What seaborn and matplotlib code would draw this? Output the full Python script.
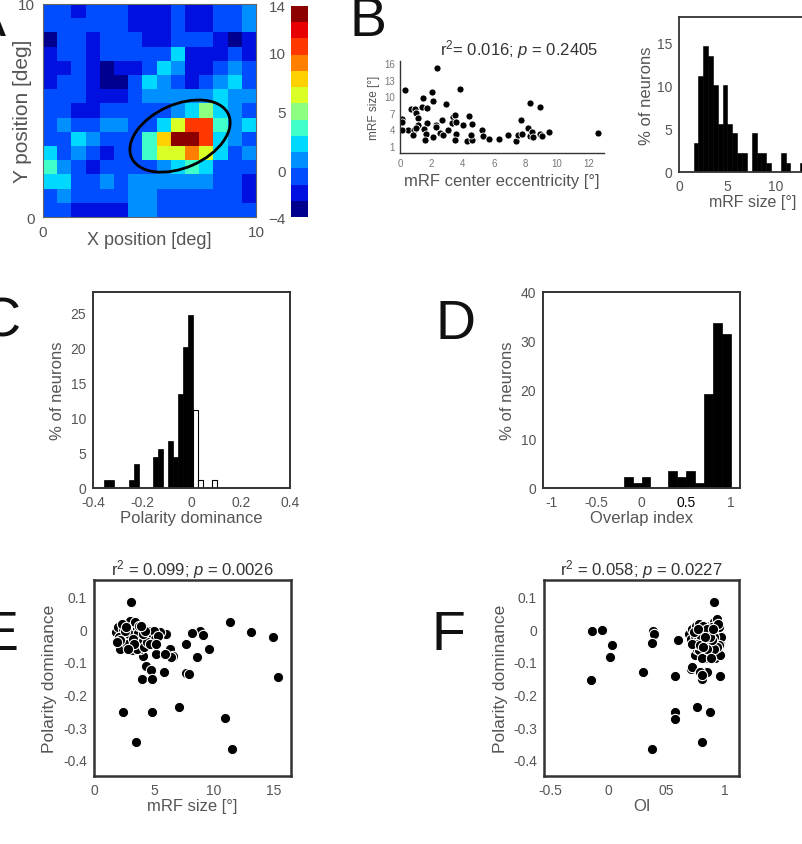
import numpy as np
import matplotlib
matplotlib.use('Agg')
import matplotlib.pyplot as plt
import seaborn as sns
from matplotlib.colors import ListedColormap
from matplotlib.patches import Ellipse

# ---------------- data ----------------
# Panel A: receptive field map, 15 x 15 cells, row 0 = top (Y = 10 deg)
rf_codes = [
    "bbDbbbDDDbDDbbL",
    "bbbbbbDDDbDDbbL",
    "NbbDbbbDDbbbDND",
    "DbbDbbbbbCDDDbD",
    "DDbDNDDbCLDDbLb",
    "DbbDNNbCLbDbLCb",
    "bbbDDDbLLLLLCLL",
    "bbDDbbbbbLCGCLb",
    "bLbbLLbbCYRRALC",
    "bbCLbbbAOKKRCLb",
    "CbLbDbbAYYoYCbL",
    "ALbDbbbbLCACbbb",
    "CCbbLbLLLLLLbbD",
    "bLbbbbLLbbbbbbD",
    "bbDDDDLLbbbbbbb",
]
rf_levels = {"N": -3.3, "D": -2.0, "b": -0.6, "L": 0.9, "C": 2.2, "A": 3.6,
             "G": 5.0, "Y": 6.4, "O": 7.8, "o": 9.4, "R": 10.5, "K": 13.3}
cbar_ticks = [-4, 0, 5, 10, 14]
# 13 colour steps, bottom to top
cbar_colors = ['#00008f', '#0010e0', '#004dff', '#008fff', '#00d9ff',
               '#40ffc8', '#8cff80', '#d9ff26', '#ffd100', '#ff8000',
               '#ff3800', '#e60000', '#8c0000']

# Panel B (left): eccentricity vs mRF size
ecc = [2.34, 0.32, 3.82, 2.06, 2.12, 1.49, 2.91, 8.28, 8.92, 0.70, 0.95, 1.38,
       1.74, 1.00, 1.13, 0.10, 0.15, 2.70, 3.40, 3.50, 3.30, 4.40, 1.70, 1.17,
       2.27, 3.60, 4.00, 4.60, 0.53, 0.10, 0.90, 1.50, 2.55, 3.08, 3.60, 0.85,
       1.66, 2.10, 1.60, 2.75, 3.50, 4.25, 4.60, 4.55, 5.25, 5.30, 5.67, 6.30,
       6.90, 7.37, 7.50, 7.70, 7.80, 8.17, 8.30, 8.40, 8.50, 8.90, 9.05, 9.50,
       12.60, 2.30, 1.05]
rf_size = [15.2, 11.1, 11.4, 10.8, 9.1, 9.6, 8.6, 8.7, 8.1, 7.7, 7.7, 8.0,
           7.8, 6.9, 6.05, 5.9, 5.3, 5.7, 6.2, 6.6, 5.2, 6.5, 5.1, 4.8,
           4.7, 5.3, 4.7, 4.9, 3.95, 3.95, 3.9, 4.1, 3.3, 3.8, 3.2, 2.9,
           3.1, 2.6, 2.15, 2.9, 2.15, 1.95, 2.1, 2.9, 3.8, 2.7, 2.3, 2.3,
           2.9, 1.95, 3.0, 5.6, 3.1, 4.25, 2.7, 3.5, 2.6, 3.2, 2.7, 3.5,
           3.4, 4.5, 4.3]

# Panel B (right): mRF size histogram (% of neurons, 0.5 deg bins from 1.5)
size_edges = [1.5, 2.0, 2.5, 3.0, 3.5, 4.0, 4.5, 5.0, 5.5, 6.0, 6.5, 7.0, 7.5,
              8.0, 8.5, 9.0, 9.5, 10.0, 10.5, 11.0, 11.5, 12.0, 12.5, 13.0]
size_pct = [3.4, 11.2, 14.6, 13.5, 10.1, 5.6, 10.1, 5.6, 4.5, 2.2, 2.2, 0.0,
            4.5, 2.2, 2.2, 1.1, 0.0, 0.0, 2.2, 1.1, 0.0, 0.0, 1.1]

# Panel C: polarity dominance histogram
pol_edges = [round(-0.395 + 0.02 * k, 3) for k in range(41)]
pol_pct = [0, 0, 1.1, 1.1, 0, 0, 0, 1.1, 3.4, 0, 0, 0, 4.5, 5.6, 0, 6.7, 4.5,
           13.5, 20.2, 24.7, 11.2, 1.1, 0, 0, 1.1, 0, 0, 0, 0, 0, 0, 0, 0, 0,
           0, 0, 0, 0, 0, 0]
pol_split = 20  # bins from here on are positive (drawn white)

# Panel D: overlap index histogram
oi_edges = [-1.0, -0.9, -0.8, -0.7, -0.6, -0.5, -0.4, -0.3, -0.2, -0.1, 0.0,
            0.1, 0.2, 0.3, 0.4, 0.5, 0.6, 0.7, 0.8, 0.9, 1.0]
oi_pct = [0, 0, 0, 0, 0, 0, 0, 0, 2.2, 1.1, 2.2, 0, 0, 3.4, 2.2, 3.4, 1.1,
          19.1, 33.7, 31.5]

# Panel E: mRF size vs polarity dominance
e_size = [3.06, 11.3, 13.1, 14.9, 15.3, 8.8, 9.1, 8.2, 7.7, 9.55, 8.6, 7.7,
          7.95, 5.8, 6.35, 6.6, 6.4, 5.2, 4.07, 4.35, 4.76, 4.0, 4.8, 2.45,
          4.8, 7.1, 10.9, 3.5, 11.5, 6.0, 5.5, 5.9,
          1.8, 2.0, 2.1, 2.3, 2.4, 2.5, 2.6, 2.7, 2.8, 2.9, 3.0, 3.1, 3.2, 3.3,
          3.4, 3.5, 3.6, 3.7, 3.8, 3.9, 4.0, 4.1, 4.2, 4.3, 4.4, 4.5, 4.6, 4.7,
          4.8, 5.0, 5.1, 5.3, 2.2, 2.75, 3.15, 3.55, 2.35, 3.45, 2.05, 3.85,
          4.15, 2.95, 3.65, 4.45, 2.55, 3.25, 3.75, 4.05, 2.15, 2.65, 3.35,
          4.25, 4.65, 2.85, 5.2, 3.95, 1.9]
e_pol = [0.082, 0.022, -0.010, -0.023, -0.146, -0.005, -0.018, -0.012, -0.046,
         -0.061, -0.087, -0.135, -0.138, -0.133, -0.061, -0.084, -0.085,
         -0.077, -0.084, -0.114, -0.124, -0.153, -0.153, -0.255, -0.255,
         -0.240, -0.273, -0.345, -0.367, -0.015, -0.010, -0.075,
         -0.01, 0.005, -0.045, -0.02, 0.0, -0.035, -0.055, -0.01, 0.01, -0.03,
         0.025, -0.005, -0.05, 0.012, -0.02, -0.04, 0.0, -0.025, -0.06, -0.01,
         -0.035, 0.002, -0.02, -0.045, -0.01, -0.03, -0.005, -0.025, -0.015,
         -0.005, -0.03, -0.02, -0.06, -0.045, -0.065, -0.06, 0.015, 0.02,
         -0.025, -0.04, -0.055, -0.015, -0.012, -0.04, -0.005, -0.03, 0.008,
         -0.015, -0.035, 0.005, -0.045, -0.005, -0.045, -0.06, -0.045, 0.01,
         -0.04]

# Panel F: overlap index vs polarity dominance
f_oi = [-0.137, -0.05, 0.03, 0.014, -0.146, 0.30, 0.386, 0.392, 0.374, 0.377,
        0.597, 0.571, 0.571, 0.574, 0.906, 0.709, 0.715, 0.806, 0.843, 0.786,
        0.957, 0.757, 0.871, 0.806, 0.745, 0.70, 0.80,
        0.69, 0.71, 0.72, 0.73, 0.74, 0.75, 0.76, 0.77, 0.78, 0.79, 0.80, 0.81,
        0.82, 0.83, 0.84, 0.85, 0.86, 0.87, 0.88, 0.89, 0.90, 0.91, 0.92, 0.93,
        0.94, 0.95, 0.96, 0.97, 0.935, 0.915, 0.895, 0.875, 0.855, 0.835,
        0.815, 0.795, 0.775, 0.755, 0.735, 0.715, 0.945, 0.925, 0.905, 0.885,
        0.865, 0.845, 0.825, 0.805, 0.785, 0.765, 0.96, 0.95, 0.93, 0.91,
        0.89, 0.87, 0.85, 0.83, 0.81, 0.94, 0.90, 0.88]
f_pol = [-0.005, -0.002, -0.049, -0.085, -0.155, -0.133, -0.007, -0.015,
         -0.043, -0.367, -0.033, -0.143, -0.255, -0.276, 0.084, -0.122, -0.115,
         -0.153, -0.133, -0.133, -0.145, -0.238, -0.255, -0.345, -0.08, -0.01,
         -0.14,
         -0.015, -0.03, 0.0, -0.05, -0.02, 0.01, -0.06, -0.035, 0.015, -0.005,
         -0.045, -0.075, -0.02, 0.005, -0.055, -0.03, -0.09, 0.01, -0.015,
         -0.065, -0.04, 0.02, -0.005, -0.03, -0.07, -0.015, -0.045, -0.025,
         0.03, -0.09, -0.08, -0.045, -0.01, -0.09, 0.01, -0.025, -0.065,
         -0.045, -0.01, -0.045, -0.05, 0.01, -0.025, 0.005, -0.07, 0.0, -0.04,
         -0.09, -0.05, 0.0, -0.08, 0.005, -0.055, -0.06, -0.035, -0.025,
         -0.06, -0.025, -0.055, 0.015, 0.0, -0.09]

# ---------------- style ----------------
sns.set_style('white')
plt.rcParams['font.family'] = ['Liberation Sans', 'DejaVu Sans']
plt.rcParams['mathtext.fontset'] = 'custom'
plt.rcParams['mathtext.rm'] = 'Liberation Sans'
plt.rcParams['mathtext.it'] = 'Liberation Sans:italic'

GRAY = '#555555'
SPINE = '#333333'
W, H = 803, 845


def px_axes(fig, x0, y0, x1, y1):
    """Add axes from pixel box (top-left origin)."""
    return fig.add_axes([x0 / W, 1 - y1 / H, (x1 - x0) / W, (y1 - y0) / H])


def box_style(ax, lw=1.3, labelsize=10):
    for s in ax.spines.values():
        s.set_visible(True)
        s.set_color(SPINE)
        s.set_linewidth(lw)
    ax.tick_params(direction='in', length=2, colors=GRAY, labelsize=labelsize,
                   width=0.8, pad=5)


fig = plt.figure(figsize=(W / 100, H / 100), dpi=100)

# ---------------- A: RF heatmap ----------------
rf = np.array([[rf_levels[c] for c in row] for row in rf_codes])
axA = px_axes(fig, 43, 5, 256, 218)
caxA = px_axes(fig, 291, 7, 308, 218)
sns.heatmap(rf, cmap=ListedColormap(cbar_colors), vmin=-4, vmax=14, ax=axA,
            cbar_ax=caxA, xticklabels=False, yticklabels=False)
axA.set_xticks([0, 15])
axA.set_xticklabels(['0', '10'])
axA.set_yticks([15, 0])
axA.set_yticklabels(['0', '10'])
for s in axA.spines.values():
    s.set_visible(True)
    s.set_color('#666666')
    s.set_linewidth(0.8)
axA.tick_params(length=0, colors=GRAY, labelsize=11, pad=6)
axA.set_xlabel('X position [deg]', fontsize=13, color=GRAY, labelpad=-6)
axA.set_ylabel('Y position [deg]', fontsize=15, color=GRAY)
axA.yaxis.set_label_coords(-0.05, 0.5)
axA.add_patch(Ellipse((9.65, 9.3), width=7.47, height=4.46, angle=-24,
                      fill=False, edgecolor='black', linewidth=2))
cbar = axA.collections[0].colorbar
cbar.set_ticks(cbar_ticks)
cbar.outline.set_visible(False)
caxA.yaxis.set_ticks_position('left')
caxA.tick_params(length=0, colors=GRAY, labelsize=11, pad=4)

# ---------------- B: eccentricity scatter ----------------
axB = px_axes(fig, 400, 62, 604, 154)
sns.scatterplot(x=ecc, y=rf_size, color='black', edgecolor='white', s=26,
                linewidth=0.6, ax=axB)
axB.set_xlim(0, 13)
axB.set_ylim(-0.3, 16.4)
axB.set_xticks([0, 2, 4, 6, 8, 10, 12])
axB.set_yticks([1, 4, 7, 10, 13, 16])
for side in ['top', 'right']:
    axB.spines[side].set_visible(False)
for side in ['left', 'bottom']:
    axB.spines[side].set_color(SPINE)
    axB.spines[side].set_linewidth(1.0)
axB.tick_params(direction='in', length=3, colors='#777777', labelsize=7,
                width=0.8)
axB.set_xlabel('mRF center eccentricity [°]', fontsize=12, color=GRAY)
axB.set_ylabel('mRF size [°]', fontsize=8.5, color=GRAY, labelpad=3)
fig.text(519 / W, 1 - 55 / H, 'r$^2$= 0.016; $p$ = 0.2405', ha='center',
         va='baseline', fontsize=12, color='#333333')

# ---------------- B: size histogram ----------------
axBh = px_axes(fig, 679, 18, 834, 173)
centers = [(a + b) / 2 for a, b in zip(size_edges[:-1], size_edges[1:])]
sns.histplot(x=centers, weights=size_pct, bins=size_edges, color='black',
             alpha=1, edgecolor='black', linewidth=0.4, ax=axBh)
axBh.set_xlim(0, 16)
axBh.set_ylim(0, 18)
axBh.set_xticks([0, 5, 10, 15])
axBh.set_yticks([0, 5, 10, 15])
box_style(axBh, lw=1.3, labelsize=10)
axBh.set_xlabel('mRF size [°]', fontsize=11.5, color=GRAY)
axBh.xaxis.set_label_coords(0.475, -0.14)
axBh.set_ylabel('% of neurons', fontsize=12, color=GRAY, labelpad=2)

# ---------------- C: polarity histogram ----------------
axC = px_axes(fig, 93, 293, 290, 489)
pc = [(a + b) / 2 for a, b in zip(pol_edges[:-1], pol_edges[1:])]
sns.histplot(x=pc[:pol_split], weights=pol_pct[:pol_split], bins=pol_edges,
             color='black', alpha=1, edgecolor='black', linewidth=0.5, ax=axC)
sns.histplot(x=pc[pol_split:], weights=pol_pct[pol_split:], bins=pol_edges,
             facecolor='white', alpha=1, edgecolor='black', linewidth=0.8,
             ax=axC)
axC.set_xlim(-0.4, 0.4)
axC.set_ylim(0, 28)
axC.set_xticks([-0.4, -0.2, 0, 0.2, 0.4])
axC.set_xticklabels(['-0.4', '-0.2', '0', '0.2', '0.4'])
axC.set_yticks([0, 5, 10, 15, 20, 25])
box_style(axC, lw=1.4, labelsize=10)
axC.set_xlabel('Polarity dominance', fontsize=12, color=GRAY, labelpad=1)
axC.set_ylabel('% of neurons', fontsize=12, color=GRAY)

# ---------------- D: overlap histogram ----------------
axD = px_axes(fig, 543, 293, 740, 489)
oc = [(a + b) / 2 for a, b in zip(oi_edges[:-1], oi_edges[1:])]
sns.histplot(x=oc, weights=oi_pct, bins=oi_edges, color='black', alpha=1,
             edgecolor='black', linewidth=0.5, ax=axD)
axD.set_xlim(-1.1, 1.1)
axD.set_ylim(0, 40)
axD.set_xticks([-1, -0.5, 0, 0.5, 1])
axD.set_xticklabels(['-1', '-0.5', '0', '0.5', '1'])
axD.set_yticks([0, 10, 20, 30, 40])
box_style(axD, lw=1.4, labelsize=10)
axD.get_xticklabels()[3].set_color('black')
axD.set_xlabel('Overlap index', fontsize=12, color=GRAY, labelpad=1)
axD.set_ylabel('% of neurons', fontsize=12, color=GRAY)

# ---------------- E: size vs polarity ----------------
axE = px_axes(fig, 94, 581, 291, 777)
sns.scatterplot(x=e_size, y=e_pol, color='black', edgecolor='white', s=55,
                linewidth=0.8, ax=axE)
axE.set_xlim(0, 16.4)
axE.set_ylim(-0.45, 0.15)
axE.set_xticks([0, 5, 10, 15])
axE.set_yticks([0.1, 0, -0.1, -0.2, -0.3, -0.4])
axE.set_yticklabels(['0.1', '0', '-0.1', '-0.2', '-0.3', '-0.4'])
box_style(axE, lw=1.8, labelsize=10)
axE.set_xlabel('mRF size [°]', fontsize=12, color=GRAY, labelpad=1)
axE.set_ylabel('Polarity dominance', fontsize=12.5, color=GRAY)
axE.set_title('r$^2$ = 0.099; $p$ = 0.0026', fontsize=12, color='#333333',
              pad=4)

# ---------------- F: OI vs polarity ----------------
axF = px_axes(fig, 544, 581, 739, 777)
sns.scatterplot(x=f_oi, y=f_pol, color='black', edgecolor='white', s=55,
                linewidth=0.8, ax=axF)
axF.set_xlim(-0.55, 1.12)
axF.set_ylim(-0.45, 0.15)
axF.set_xticks([-0.5, 0, 0.5, 1])
axF.set_xticklabels(['-0.5', '0', '05', '1'])
axF.set_yticks([0.1, 0, -0.1, -0.2, -0.3, -0.4])
axF.set_yticklabels(['0.1', '0', '-0.1', '-0.2', '-0.3', '-0.4'])
box_style(axF, lw=1.8, labelsize=10)
axF.set_xlabel('OI', fontsize=12, color=GRAY, labelpad=1)
axF.set_ylabel('Polarity dominance', fontsize=12.5, color=GRAY)
axF.set_title('r$^2$ = 0.058; $p$ = 0.0227', fontsize=12, color='#333333',
              pad=4)

# ---------------- panel letters ----------------
for letter, x, y in [('A', -31, 36), ('B', 350, 36), ('C', -20, 337),
                     ('D', 436, 339), ('E', -19, 650), ('F', 432, 650)]:
    fig.text(x / W, 1 - y / H, letter, fontsize=40, color='#111111',
             ha='left', va='baseline')

fig.savefig('out.png', dpi=100)
